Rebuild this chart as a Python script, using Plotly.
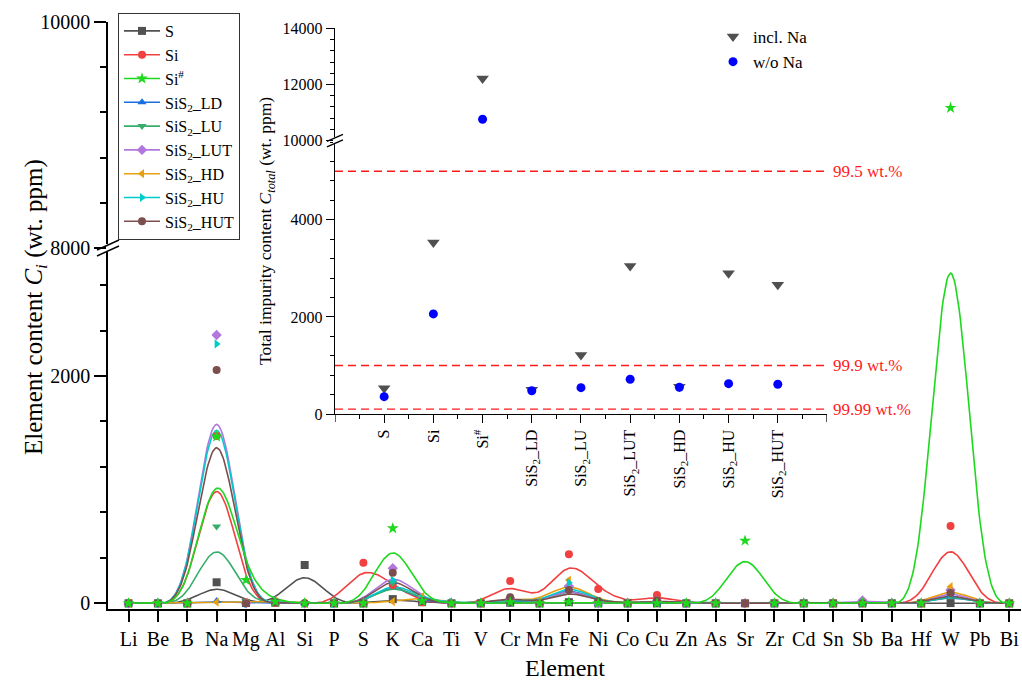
import numpy as np
import plotly.graph_objects as go

# ---------------- data ----------------
elements = ["Li", "Be", "B", "Na", "Mg", "Al", "Si", "P", "S", "K", "Ca", "Ti", "V", "Cr",
            "Mn", "Fe", "Ni", "Co", "Cu", "Zn", "As", "Sr", "Zr", "Cd", "Sn", "Sb", "Ba",
            "Hf", "W", "Pb", "Bi"]

#            Li Be B  Na    Mg   Al  Si   P  S    K    Ca  Ti V  Cr   Mn  Fe   Ni   Co Cu  Zn As Sr   Zr Cd Sn Sb  Ba Hf W     Pb Bi
S_ppm      = [0, 0, 0, 185,  3,   5,  337, 0, 0,   37,  10, 0, 0, 5,   0,  10,  0,   0, 0,  0, 0, 0,   0, 0, 0, 0,  0, 0, 2,    0, 0]
Si_ppm     = [0, 0, 0, 1473, 10,  5,  0,   0, 357, 161, 10, 0, 0, 196, 0,  431, 126, 0, 73, 0, 0, 0,   0, 0, 0, 0,  0, 0, 680,  0, 0]
Sih_ppm    = [0, 0, 0, 1467, 205, 15, 0,   0, 0,   660, 20, 0, 0, 10,  0,  10,  0,   0, 0,  0, 0, 551, 0, 0, 0, 0,  0, 0, 9240, 0, 0]
LD_ppm     = [0, 0, 0, 20,   0,   5,  0,   0, 0,   190, 15, 0, 0, 30,  0,  160, 0,   0, 10, 0, 0, 0,   0, 0, 0, 0,  0, 0, 70,   0, 0]
LU_ppm     = [0, 0, 0, 675,  15,  10, 0,   0, 0,   180, 30, 10, 0, 35, 0,  140, 20,  0, 15, 10, 0, 0,  0, 0, 0, 0,  0, 0, 75,   0, 0]
LUT_ppm    = [0, 0, 0, 2361, 0,   15, 0,   0, 0,   308, 30, 0, 0, 45,  0,  150, 0,   0, 20, 0, 0, 0,   0, 0, 0, 25, 0, 0, 117,  0, 0]
HD_ppm     = [0, 0, 0, 10,   10,  20, 0,   0, 0,   15,  60, 0, 0, 45,  15, 205, 20,  0, 20, 0, 0, 0,   0, 0, 0, 0,  0, 0, 146,  0, 0]
HU_ppm     = [0, 0, 0, 2282, 0,   20, 0,   0, 0,   205, 40, 10, 0, 40, 0,  181, 15,  0, 20, 0, 0, 0,   0, 0, 0, 0,  0, 0, 83,   0, 0]
HUT_ppm    = [0, 0, 0, 2053, 0,   10, 0,   0, 0,   269, 20, 0, 0, 53,  0,  117, 20,  0, 25, 0, 0, 0,   0, 0, 0, 0,  0, 0, 90,   0, 0]

series_names = ["S", "Si", "Si<sup>#</sup>", "SiS<sub>2</sub>_LD", "SiS<sub>2</sub>_LU",
                "SiS<sub>2</sub>_LUT", "SiS<sub>2</sub>_HD", "SiS<sub>2</sub>_HU", "SiS<sub>2</sub>_HUT"]
series_vals = [S_ppm, Si_ppm, Sih_ppm, LD_ppm, LU_ppm, LUT_ppm, HD_ppm, HU_ppm, HUT_ppm]
series_colors = ["#515151", "#F14040", "#1ED81E", "#1A6FDF", "#37AD6B", "#B177DE",
                 "#E8A010", "#00CBCC", "#7D4E4E"]
series_symbols = ["square", "circle", "star", "triangle-up", "triangle-down", "diamond",
                  "triangle-left", "triangle-right", "circle"]

main_low_ticks = [0, 2000]
main_up_ticks = [8000, 10000]

# inset: total impurity content
samples = ["S", "Si", "Si<sup>#</sup>", "SiS<sub>2</sub>_LD", "SiS<sub>2</sub>_LU",
           "SiS<sub>2</sub>_LUT", "SiS<sub>2</sub>_HD", "SiS<sub>2</sub>_HU", "SiS<sub>2</sub>_HUT"]
total_incl_Na = [530, 3532, 12214, 500, 1216, 3050, 560, 2900, 2660]
total_wo_Na = [357, 2062, 10764, 480, 543, 715, 550, 625, 612]
purity_ppm = [5000, 1000, 100]
purity_labels = ["99.5 wt.%", "99.9 wt.%", "99.99 wt.%"]
inset_low_ticks = [0, 2000, 4000]
inset_up_ticks = [10000, 12000, 14000]

# ---------------- layout constants ----------------
W, H = 1022, 681
ML, MR, MT, MB = 108, 1, 22, 72
PW, PH = W - ML - MR, H - MT - MB
FONT = "Liberation Serif, Times New Roman, serif"

SPLIT = 0.615                 # main broken axis split (paper)
LOW_RANGE = [-50, 3126]
UP_RANGE = [8000, 10000]

IN_X = [0.2486, 0.7875]
IN_SPLIT = [0.3322, 0.7978, 0.9893]
IN_LOW = [0, 5630]
IN_UP = [10000, 14000]


def px(xp):
    return (xp - ML) / PW


def py(yp):
    return (H - MB - yp) / PH


# screen-linear coordinate (in lower-axis units) for the broken axis
low_px_per = SPLIT * PH / (LOW_RANGE[1] - LOW_RANGE[0])
up_px_per = (1 - SPLIT) * PH / (UP_RANGE[1] - UP_RANGE[0])


def to_screen_units(v):
    v = np.asarray(v, float)
    return np.where(v <= LOW_RANGE[1], v, LOW_RANGE[1] + (v - UP_RANGE[0]) * up_px_per / low_px_per)


def bspline(vals, n_per=24):
    P = np.asarray(vals, float)
    ext = np.concatenate([[2 * P[0] - P[1]], P, [2 * P[-1] - P[-2]]])
    u = np.linspace(0, 1, n_per, endpoint=False)
    xs, ys = [], []
    for i in range(len(P) - 1):
        p0, p1, p2, p3 = ext[i], ext[i + 1], ext[i + 2], ext[i + 3]
        b = ((1 - u) ** 3 * p0 + (3 * u ** 3 - 6 * u ** 2 + 4) * p1
             + (-3 * u ** 3 + 3 * u ** 2 + 3 * u + 1) * p2 + u ** 3 * p3) / 6
        xs.extend(list(i + u))
        ys.extend(list(b))
    xs.append(len(P) - 1)
    ys.append((ext[-3] + 4 * ext[-2] + ext[-1]) / 6)
    return xs, ys


def msize(sym):
    return 9 if sym == "star" else 8


fig = go.Figure()
xidx = list(range(len(elements)))

draw_order = [0, 1, 3, 4, 5, 6, 7, 8, 2]
# smoothed lines (B-spline in screen space)
for k in draw_order:
    sx, sy = bspline(to_screen_units(series_vals[k]))
    fig.add_trace(go.Scatter(x=sx, y=sy, mode="lines", xaxis="x", yaxis="y",
                             line=dict(color=series_colors[k], width=1.6),
                             showlegend=False, hoverinfo="skip"))
# markers
for k in draw_order:
    vals = series_vals[k]
    low = [v if v <= LOW_RANGE[1] else None for v in vals]
    up = [v if v >= UP_RANGE[0] else None for v in vals]
    mk = dict(symbol=series_symbols[k], color=series_colors[k],
              size=msize(series_symbols[k]), line=dict(width=0))
    fig.add_trace(go.Scatter(x=xidx, y=low, mode="markers", xaxis="x", yaxis="y",
                             marker=mk, showlegend=False, name=series_names[k]))
    if any(v is not None for v in up):
        fig.add_trace(go.Scatter(x=xidx, y=up, mode="markers", xaxis="x", yaxis="y2",
                                 marker=mk, showlegend=False, name=series_names[k]))
# legend entries
for k in range(len(series_names)):
    fig.add_trace(go.Scatter(x=[None], y=[None], mode="lines+markers", name=series_names[k],
                             xaxis="x", yaxis="y", legend="legend",
                             line=dict(color=series_colors[k], width=1.6),
                             marker=dict(symbol=series_symbols[k], color=series_colors[k],
                                         size=msize(series_symbols[k]))))

# inset traces
sidx = list(range(len(samples)))
for vals, name, sym, col, size in [(total_incl_Na, "incl. Na", "triangle-down", "#505050", 11),
                                   (total_wo_Na, "w/o Na", "circle", "#0000FF", 9)]:
    low = [v if v <= IN_LOW[1] else None for v in vals]
    up = [v if v >= IN_UP[0] else None for v in vals]
    fig.add_trace(go.Scatter(x=sidx, y=low, mode="markers", name=name, xaxis="x2", yaxis="y3",
                             marker=dict(symbol=sym, color=col, size=size),
                             legend="legend2", showlegend=True))
    fig.add_trace(go.Scatter(x=sidx, y=up, mode="markers", name=name, xaxis="x2", yaxis="y4",
                             marker=dict(symbol=sym, color=col, size=size),
                             legend="legend2", showlegend=False))

axis_common = dict(showgrid=False, zeroline=False, showline=True, linecolor="black",
                   ticks="outside", tickcolor="black", color="black")

shapes = []
annotations = []

# purity threshold lines
for val, lab in zip(purity_ppm, purity_labels):
    shapes.append(dict(type="line", xref="x2", yref="y3", x0=-1, x1=9, y0=val, y1=val,
                       line=dict(color="#FF1A1A", width=1.4, dash="8px,5px"), layer="above"))
    annotations.append(dict(x=9, y=val, xref="x2", yref="y3", text=lab, showarrow=False,
                            xanchor="left", yanchor="middle", xshift=4,
                            font=dict(family=FONT, size=17, color="#FF1A1A")))

# end ticks of the inset category axis
for xv in (-1, 9):
    shapes.append(dict(type="line", xref="x2", yref="paper", x0=xv, x1=xv,
                       y0=IN_SPLIT[0], y1=IN_SPLIT[0] - 8 / PH, line=dict(color="black", width=1.3)))


# axis break marks
def break_marks(xa, yc, half_w, dy, gap, sep):
    out = [dict(type="line", xref="paper", yref="paper", x0=px(xa), x1=px(xa),
                y0=py(yc - gap), y1=py(yc + gap), line=dict(color="white", width=4))]
    for off in (-sep / 2, sep / 2):
        out.append(dict(type="line", xref="paper", yref="paper",
                        x0=px(xa - half_w), y0=py(yc + off + dy),
                        x1=px(xa + half_w), y1=py(yc + off - dy),
                        line=dict(color="black", width=1.4)))
    return out


shapes += break_marks(ML, H - MB - SPLIT * PH, 11, 5, 4, 6)
shapes += break_marks(ML + IN_X[0] * PW, H - MB - IN_SPLIT[1] * PH, 8, 3.5, 3.5, 5.5)

annotations.append(dict(x=px(35), y=py(307), xref="paper", yref="paper",
                        text="Element content <i>C</i><sub><i>i</i></sub> (wt. ppm)",
                        textangle=-90, showarrow=False, xanchor="center", yanchor="middle",
                        font=dict(family=FONT, size=25, color="black")))
annotations.append(dict(x=px(565), y=py(668), xref="paper", yref="paper", text="Element",
                        showarrow=False, xanchor="center", yanchor="middle",
                        font=dict(family=FONT, size=24, color="black")))
annotations.append(dict(x=px(266), y=py(231), xref="paper", yref="paper",
                        text="Total impurity content <i>C</i><sub><i>total</i></sub> (wt. ppm)",
                        textangle=-90, showarrow=False, xanchor="center", yanchor="middle",
                        font=dict(family=FONT, size=17.5, color="black")))

minor_main = dict(dtick=400, ticklen=6, tickwidth=1.5, ticks="outside", tickcolor="black")
minor_inset = dict(dtick=400, ticklen=4, tickwidth=1.3, ticks="outside", tickcolor="black")

fig.update_layout(
    width=W, height=H,
    margin=dict(l=ML, r=MR, t=MT, b=MB, autoexpand=False),
    paper_bgcolor="white", plot_bgcolor="rgba(0,0,0,0)",
    font=dict(family=FONT, color="black"),
    xaxis=dict(axis_common, domain=[0, 1], range=[-0.7, 30.4], anchor="y",
               tickvals=xidx, ticktext=elements, ticklen=11, tickwidth=1.5, linewidth=1.6,
               tickfont=dict(family=FONT, size=20)),
    yaxis=dict(axis_common, domain=[0, SPLIT], range=LOW_RANGE, anchor="x",
               tickvals=main_low_ticks, ticktext=[str(v) for v in main_low_ticks],
               ticklen=12, tickwidth=1.5, linewidth=1.6,
               tickfont=dict(family=FONT, size=20), minor=minor_main),
    yaxis2=dict(axis_common, domain=[SPLIT, 1], range=UP_RANGE, anchor="x",
                tickvals=main_up_ticks, ticktext=[str(v) for v in main_up_ticks],
                ticklen=12, tickwidth=1.5, linewidth=1.6,
                tickfont=dict(family=FONT, size=20), minor=minor_main),
    xaxis2=dict(axis_common, domain=IN_X, range=[-1, 9], anchor="y3",
                tickvals=sidx, ticktext=samples,
                tickangle=-90, ticklen=8, tickwidth=1.3, linewidth=1.4,
                tickfont=dict(family=FONT, size=16),
                minor=dict(tickvals=[i + 0.5 for i in range(-1, 9)], ticklen=4, tickwidth=1.3,
                           ticks="outside", tickcolor="black")),
    yaxis3=dict(axis_common, domain=[IN_SPLIT[0], IN_SPLIT[1]], range=IN_LOW, anchor="x2",
                tickvals=inset_low_ticks, ticktext=[str(v) for v in inset_low_ticks],
                ticklen=8, tickwidth=1.3, linewidth=1.4,
                tickfont=dict(family=FONT, size=16), minor=minor_inset),
    yaxis4=dict(axis_common, domain=[IN_SPLIT[1], IN_SPLIT[2]], range=IN_UP, anchor="x2",
                tickvals=inset_up_ticks, ticktext=[str(v) for v in inset_up_ticks],
                ticklen=8, tickwidth=1.3, linewidth=1.4,
                tickfont=dict(family=FONT, size=16), minor=minor_inset),
    legend=dict(x=px(118), y=py(13), xanchor="left", yanchor="top", bgcolor="white",
                bordercolor="#333333", borderwidth=1, itemwidth=36, traceorder="normal",
                font=dict(family=FONT, size=16, color="black")),
    legend2=dict(x=px(713), y=py(19), xanchor="left", yanchor="top", bgcolor="rgba(0,0,0,0)",
                 borderwidth=0, font=dict(family=FONT, size=17, color="black")),
    shapes=shapes, annotations=annotations,
    showlegend=True,
)

fig.write_html("out.html")
